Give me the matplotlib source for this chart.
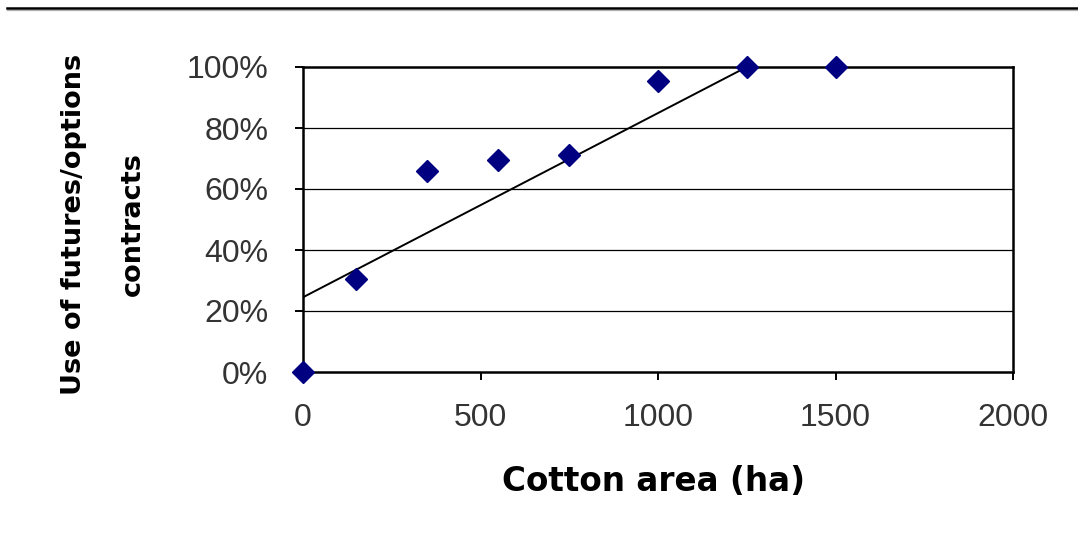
import matplotlib
matplotlib.use('Agg')

import matplotlib.pyplot as plt
from matplotlib.lines import Line2D

# ------------------------------------------------------------
# Datos
# ------------------------------------------------------------
cotton_area = [0, 150, 350, 550, 750, 1000, 1250, 1500]
use_share = [0.0, 0.305, 0.66, 0.695, 0.71, 0.955, 1.0, 1.0]

trend_x = [0, 1250]
trend_y = [0.245, 1.0]

x_ticks = [0, 500, 1000, 1500, 2000]
y_ticks = [0.0, 0.2, 0.4, 0.6, 0.8, 1.0]
y_labels = ["0%", "20%", "40%", "60%", "80%", "100%"]

W, H = 1078, 544

# ------------------------------------------------------------
# Figura
# ------------------------------------------------------------
fig = plt.figure(figsize=(W / 100, H / 100), dpi=100)
ax = fig.add_axes([303 / W, 1 - 372 / H, 710 / W, 305 / H])

# horizontal rule at the top of the page
fig.add_artist(Line2D([7 / W, 1.0], [1 - 9.5 / H, 1 - 9.5 / H],
                      color="#b0b0b0", lw=0.9, transform=fig.transFigure))
fig.add_artist(Line2D([7 / W, 1.0], [1 - 7.5 / H, 1 - 7.5 / H],
                      color="black", lw=1.8, transform=fig.transFigure))

# gridlines
for yv in y_ticks[1:-1]:
    ax.axhline(yv, color="black", lw=0.9, zorder=1)

ax.plot(trend_x, trend_y, color="black", lw=1.4, zorder=2)
ax.plot(cotton_area, use_share, linestyle="none", marker="D",
        markersize=11.5, color="#000080", clip_on=False, zorder=3)

ax.set_xlim(0, 2000)
ax.set_ylim(0, 1)
ax.set_xticks(x_ticks)
ax.set_xticklabels([str(v) for v in x_ticks])
ax.set_yticks(y_ticks)
ax.set_yticklabels(y_labels)

for s in ax.spines.values():
    s.set_linewidth(1.8)
    s.set_color("black")

ax.tick_params(axis="x", direction="out", length=6, width=1.4, pad=16.5,
               labelsize=23, labelcolor="#333333")
ax.tick_params(axis="y", direction="out", length=6, width=1.4, pad=19,
               labelsize=23, labelcolor="#333333")
for lab in ax.get_xticklabels() + ax.get_yticklabels():
    lab.set_family("Liberation Sans")

ax.set_xlabel("Cotton area (ha)", fontsize=23.5, fontweight="bold",
              family="DejaVu Sans")
ax.xaxis.set_label_coords(0.493, -0.305)

ax.set_ylabel("Use of futures/options\ncontracts", fontsize=19.5,
              fontweight="bold", family="DejaVu Sans", linespacing=2.65)
ax.yaxis.set_label_coords(-0.221, 0.485)

fig.savefig("out.png", dpi=100)
